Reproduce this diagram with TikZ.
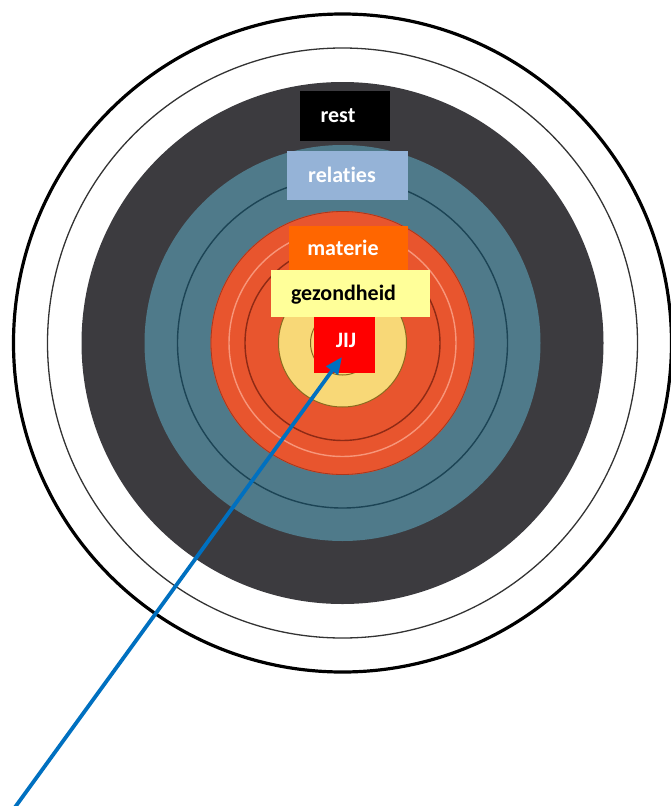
\documentclass[tikz,border=0pt]{standalone}
\usepackage{fontspec}
\setmainfont{Carlito}[Ligatures=NoCommon]
\usetikzlibrary{arrows.meta}
\definecolor{dkgray}{HTML}{3C3B3F}
\definecolor{teal1}{HTML}{4F7A8A}
\definecolor{tealline}{HTML}{1C4455}
\definecolor{redring}{HTML}{E8552E}
\definecolor{redline}{HTML}{8E2A15}
\definecolor{redlight}{HTML}{F7967A}
\definecolor{gold}{HTML}{F8D877}
\definecolor{goldline}{HTML}{8A6A1E}
\definecolor{relblue}{HTML}{95B3D7}
\definecolor{matorange}{HTML}{FF6600}
\definecolor{gezyellow}{HTML}{FFFF99}
\definecolor{jijred}{HTML}{FF0000}
\definecolor{arrowblue}{HTML}{0070C0}
\tikzset{
  labelbox/.style={rectangle, draw=none, inner sep=0pt},
  labeltext/.style={anchor=base, inner sep=0pt, font=\fontsize{22}{26}\selectfont\bfseries},
}
\begin{document}
\begin{tikzpicture}[x=1pt,y=-1pt]
\useasboundingbox (0,0) rectangle (670,806);
\coordinate (c) at (342.5,343);
% outer rings
\draw[black, line width=3.2pt] (c) circle[radius=329pt];
\draw[black!80, line width=1.3pt] (c) circle[radius=295pt];
\fill[dkgray] (c) circle[radius=261pt];
\fill[teal1] (c) circle[radius=198pt];
\draw[tealline, line width=1.4pt] (c) circle[radius=165pt];
\fill[redring] (c) circle[radius=132pt];
\draw[redline!70!redring, line width=0.8pt] (c) circle[radius=131.5pt];
\draw[redlight, line width=1.4pt] (c) circle[radius=113.5pt];
\draw[redline, line width=1.4pt] (c) circle[radius=97.5pt];
\fill[gold] (c) circle[radius=64pt];
\draw[goldline, line width=1pt] (c) circle[radius=64pt];
\draw[goldline, line width=1pt] (c) circle[radius=32pt];
% labels
\node[labelbox, fill=black, minimum width=90pt, minimum height=50pt] (restbox) at (344.5,116) {};
\node[labeltext, text=white] (rest) at (338,122) {rest};
\node[labelbox, fill=relblue, minimum width=121pt, minimum height=49pt] (relbox) at (347.5,175.5) {};
\node[labeltext, text=white] (relaties) at (342,182) {relaties};
\node[labelbox, fill=matorange, minimum width=119pt, minimum height=45pt] (matbox) at (348.5,248.5) {};
\node[labeltext, text=white] (materie) at (343,255) {materie};
\node[labelbox, fill=gezyellow, minimum width=159pt, minimum height=47pt] (gezbox) at (350.5,293.5) {};
\node[labeltext, text=black] (gezondheid) at (343.5,300) {gezondheid};
\node[labelbox, fill=jijred, minimum width=61pt, minimum height=56pt] (jijbox) at (344.5,345) {};
\node[labeltext, text=white] (jij) at (346,347) {JIJ};
% arrow
\coordinate (start) at (13,810);
\coordinate (tip) at (342,357);
\draw[arrowblue, line width=3.8pt, -{Triangle[length=17pt,width=14pt]}] (start) -- (tip);
\end{tikzpicture}
\end{document}
